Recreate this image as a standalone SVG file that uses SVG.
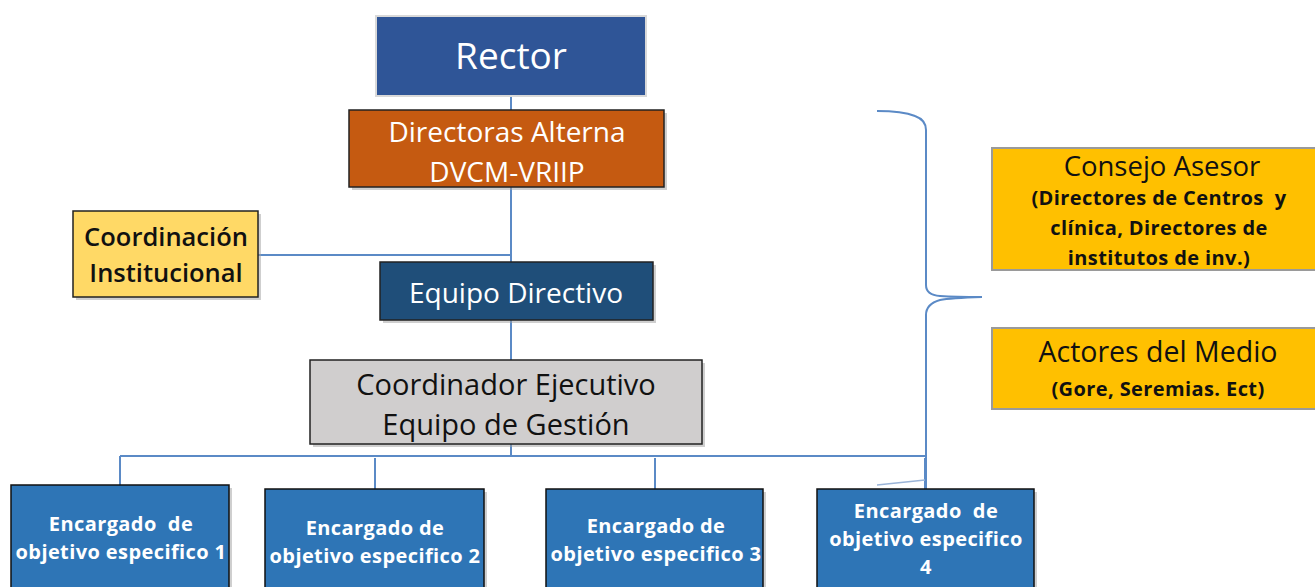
<svg xmlns="http://www.w3.org/2000/svg" width="1315" height="587" viewBox="0 0 1315 587">
<style>
.t{font-family:"Open Sans",Lato,"Liberation Sans",sans-serif;text-anchor:middle;dominant-baseline:central;white-space:pre}
.w{fill:#ffffff}
.k{fill:#111111}
.b{font-weight:bold}
.m{font-weight:600}
.s{font-weight:bold;font-size:20px;letter-spacing:0.4px}
.ln{stroke:#5b8ac6;stroke-width:2;fill:none}
.sh{fill:#a0a0a0;opacity:0.5}
</style>
<rect width="1315" height="587" fill="#ffffff"/>
<g id="connectors">
<path class="ln" d="M511 96V110M511 187V262M258 255H511M511 320V360M511 444V456"/>
<path class="ln" d="M120 456H925M120 456V485M375 458V489M655 458V489M925 458V489"/>
<path class="ln" d="M877 111C895 111 905 112 915 116Q926 120 926 130V285Q926 295 940 296Q955 297 982 297M982 297Q950 298 940 300Q926 304 926 315V489"/>
<path d="M877 485L925 480" stroke="#9ab4d8" stroke-width="1.5" fill="none"/>
</g>
<g id="rector">
<rect x="376" y="16" width="270" height="80" fill="#2f5597" stroke="#d9d9d9" stroke-width="2"/>
<text class="t w" x="511" y="54" font-size="37">Rector</text>
</g>
<g id="directoras">
<rect x="352" y="113" width="315" height="77" class="sh"/>
<rect x="349" y="110" width="315" height="77" fill="#c55a11" stroke="#222222" stroke-width="1.5"/>
<text class="t w" x="507" y="131" font-size="28">Directoras Alterna</text>
<text class="t w" x="507" y="171" font-size="28">DVCM-VRIIP</text>
</g>
<g id="coordinacion">
<rect x="76" y="214" width="185" height="86" class="sh"/>
<rect x="73" y="211" width="185" height="86" fill="#ffd966" stroke="#222222" stroke-width="1.5"/>
<text class="t k m" x="166" y="236" font-size="25.5">Coordinación</text>
<text class="t k m" x="166" y="272" font-size="25.5">Institucional</text>
</g>
<g id="equipo-directivo">
<rect x="383" y="265" width="273" height="58" class="sh"/>
<rect x="380" y="262" width="273" height="58" fill="#1f4e79" stroke="#222222" stroke-width="1.5"/>
<text class="t w" x="516" y="292" font-size="28">Equipo Directivo</text>
</g>
<g id="coordinador">
<rect x="313" y="363" width="392" height="84" class="sh"/>
<rect x="310" y="360" width="392" height="84" fill="#d0cece" stroke="#222222" stroke-width="1.5"/>
<text class="t k" x="506" y="383" font-size="29">Coordinador Ejecutivo</text>
<text class="t k" x="506" y="423" font-size="29">Equipo de Gestión</text>
</g>
<g id="consejo">
<rect x="992" y="148" width="326" height="122" fill="#ffc000" stroke="#9a9a9a" stroke-width="2"/>
<text class="t k" x="1162" y="165" font-size="27.5">Consejo Asesor</text>
<text class="t k s" x="1159" y="197">(Directores de Centros  y</text>
<text class="t k s" x="1159" y="227">clínica, Directores de</text>
<text class="t k s" x="1159" y="257">institutos de inv.)</text>
</g>
<g id="actores">
<rect x="992" y="328" width="326" height="81" fill="#ffc000" stroke="#9a9a9a" stroke-width="2"/>
<text class="t k" x="1158" y="351" font-size="28.5">Actores del Medio</text>
<text class="t k s" x="1158" y="388">(Gore, Seremias. Ect)</text>
</g>
<g id="obj1">
<rect x="14" y="488" width="218" height="110" class="sh"/>
<rect x="11" y="485" width="218" height="110" fill="#2e75b6" stroke="#111111" stroke-width="1.5"/>
<text class="t w s" x="121" y="523">Encargado  de</text>
<text class="t w s" x="121" y="551">objetivo especifico 1</text>
</g>
<g id="obj2">
<rect x="268" y="492" width="219" height="110" class="sh"/>
<rect x="265" y="489" width="219" height="110" fill="#2e75b6" stroke="#111111" stroke-width="1.5"/>
<text class="t w s" x="375" y="527">Encargado de</text>
<text class="t w s" x="375" y="555">objetivo especifico 2</text>
</g>
<g id="obj3">
<rect x="549" y="492" width="217" height="110" class="sh"/>
<rect x="546" y="489" width="217" height="110" fill="#2e75b6" stroke="#111111" stroke-width="1.5"/>
<text class="t w s" x="656" y="525">Encargado de</text>
<text class="t w s" x="656" y="553">objetivo especifico 3</text>
</g>
<g id="obj4">
<rect x="820" y="492" width="217" height="110" class="sh"/>
<rect x="817" y="489" width="217" height="110" fill="#2e75b6" stroke="#111111" stroke-width="1.5"/>
<text class="t w s" x="926" y="510">Encargado  de</text>
<text class="t w s" x="926" y="538">objetivo especifico</text>
<text class="t w s" x="926" y="566">4</text>
</g>
</svg>
